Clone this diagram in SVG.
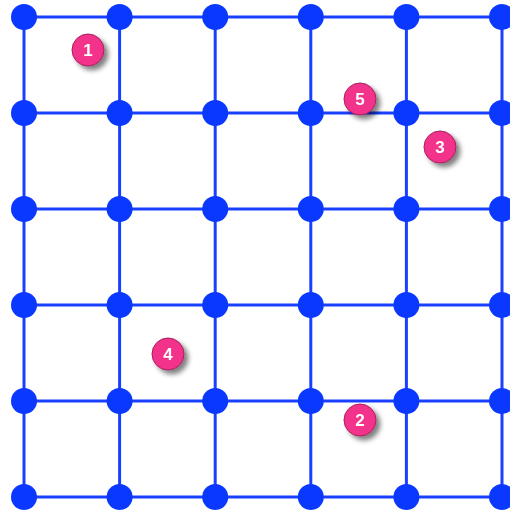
<svg xmlns="http://www.w3.org/2000/svg" width="510" height="512" viewBox="0 0 510 512">
<style>
.e{stroke:#1a40ff;stroke-width:3;fill:none}
.n{fill:#0a38ff}
.b{fill:#f2318b;stroke:#a8205c;stroke-width:1}
.t{fill:#fff;font-family:"Liberation Sans",Arial,sans-serif;font-weight:bold;font-size:17px;text-anchor:middle}
</style>
<defs>
<filter id="sh" x="-50%" y="-50%" width="220%" height="220%">
<feGaussianBlur in="SourceAlpha" stdDeviation="2.5"/>
<feOffset dx="4" dy="4" result="o"/>
<feComponentTransfer><feFuncA type="linear" slope="0.5"/></feComponentTransfer>
<feMerge><feMergeNode/><feMergeNode in="SourceGraphic"/></feMerge>
</filter>
</defs>
<rect width="510" height="512" fill="#fff"/>
<g id="connectors">
<line class="e" x1="24" y1="17" x2="502" y2="17"/>
<line class="e" x1="24" y1="113" x2="502" y2="113"/>
<line class="e" x1="24" y1="209" x2="502" y2="209"/>
<line class="e" x1="24" y1="305" x2="502" y2="305"/>
<line class="e" x1="24" y1="401" x2="502" y2="401"/>
<line class="e" x1="24" y1="497" x2="502" y2="497"/>
<line class="e" x1="24" y1="17" x2="24" y2="497"/>
<line class="e" x1="119.6" y1="17" x2="119.6" y2="497"/>
<line class="e" x1="215.2" y1="17" x2="215.2" y2="497"/>
<line class="e" x1="310.8" y1="17" x2="310.8" y2="497"/>
<line class="e" x1="406.4" y1="17" x2="406.4" y2="497"/>
<line class="e" x1="502" y1="17" x2="502" y2="497"/>
</g>
<g id="nodes">
<g id="n00"><circle class="n" cx="24" cy="17" r="13"/></g>
<g id="n01"><circle class="n" cx="119.6" cy="17" r="13"/></g>
<g id="n02"><circle class="n" cx="215.2" cy="17" r="13"/></g>
<g id="n03"><circle class="n" cx="310.8" cy="17" r="13"/></g>
<g id="n04"><circle class="n" cx="406.4" cy="17" r="13"/></g>
<g id="n05"><circle class="n" cx="502" cy="17" r="13"/></g>
<g id="n10"><circle class="n" cx="24" cy="113" r="13"/></g>
<g id="n11"><circle class="n" cx="119.6" cy="113" r="13"/></g>
<g id="n12"><circle class="n" cx="215.2" cy="113" r="13"/></g>
<g id="n13"><circle class="n" cx="310.8" cy="113" r="13"/></g>
<g id="n14"><circle class="n" cx="406.4" cy="113" r="13"/></g>
<g id="n15"><circle class="n" cx="502" cy="113" r="13"/></g>
<g id="n20"><circle class="n" cx="24" cy="209" r="13"/></g>
<g id="n21"><circle class="n" cx="119.6" cy="209" r="13"/></g>
<g id="n22"><circle class="n" cx="215.2" cy="209" r="13"/></g>
<g id="n23"><circle class="n" cx="310.8" cy="209" r="13"/></g>
<g id="n24"><circle class="n" cx="406.4" cy="209" r="13"/></g>
<g id="n25"><circle class="n" cx="502" cy="209" r="13"/></g>
<g id="n30"><circle class="n" cx="24" cy="305" r="13"/></g>
<g id="n31"><circle class="n" cx="119.6" cy="305" r="13"/></g>
<g id="n32"><circle class="n" cx="215.2" cy="305" r="13"/></g>
<g id="n33"><circle class="n" cx="310.8" cy="305" r="13"/></g>
<g id="n34"><circle class="n" cx="406.4" cy="305" r="13"/></g>
<g id="n35"><circle class="n" cx="502" cy="305" r="13"/></g>
<g id="n40"><circle class="n" cx="24" cy="401" r="13"/></g>
<g id="n41"><circle class="n" cx="119.6" cy="401" r="13"/></g>
<g id="n42"><circle class="n" cx="215.2" cy="401" r="13"/></g>
<g id="n43"><circle class="n" cx="310.8" cy="401" r="13"/></g>
<g id="n44"><circle class="n" cx="406.4" cy="401" r="13"/></g>
<g id="n45"><circle class="n" cx="502" cy="401" r="13"/></g>
<g id="n50"><circle class="n" cx="24" cy="497" r="13"/></g>
<g id="n51"><circle class="n" cx="119.6" cy="497" r="13"/></g>
<g id="n52"><circle class="n" cx="215.2" cy="497" r="13"/></g>
<g id="n53"><circle class="n" cx="310.8" cy="497" r="13"/></g>
<g id="n54"><circle class="n" cx="406.4" cy="497" r="13"/></g>
<g id="n55"><circle class="n" cx="502" cy="497" r="13"/></g>
</g>
<g id="badges">
<g id="badge1" filter="url(#sh)"><circle class="b" cx="88" cy="50" r="16"/><text class="t" x="88" y="56">1</text></g>
<g id="badge2" filter="url(#sh)"><circle class="b" cx="360" cy="420" r="16"/><text class="t" x="360" y="426">2</text></g>
<g id="badge3" filter="url(#sh)"><circle class="b" cx="440" cy="147" r="16"/><text class="t" x="440" y="153">3</text></g>
<g id="badge4" filter="url(#sh)"><circle class="b" cx="168" cy="354" r="16"/><text class="t" x="168" y="360">4</text></g>
<g id="badge5" filter="url(#sh)"><circle class="b" cx="360" cy="99" r="16"/><text class="t" x="360" y="105">5</text></g>
</g>
</svg>
